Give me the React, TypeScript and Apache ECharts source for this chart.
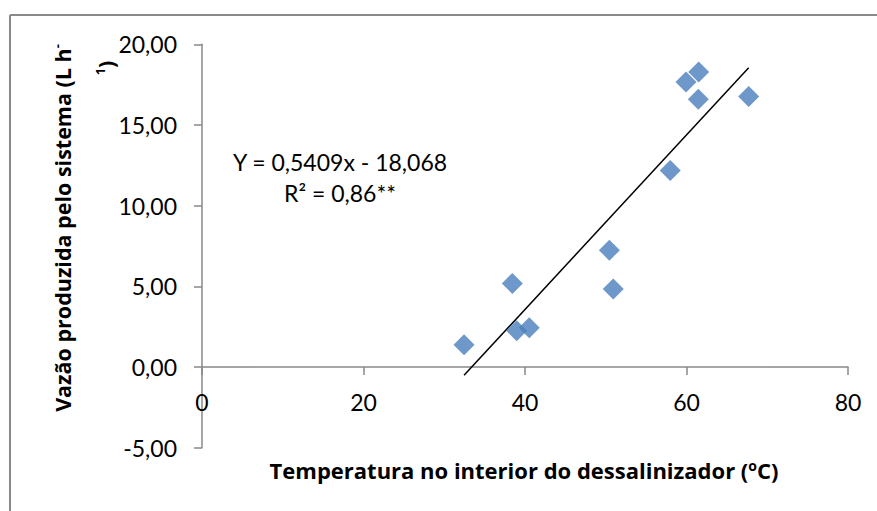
import React, { useEffect, useRef } from "react";
import * as echarts from "echarts";

const temperature = [32.45, 38.43, 38.97, 40.53, 50.45, 50.93, 57.99, 59.94, 61.51, 61.46, 67.7];
const flow = [1.38, 5.18, 2.25, 2.43, 7.24, 4.84, 12.18, 17.67, 18.28, 16.59, 16.76];
const slope = 0.5409;
const intercept = -18.068;
const xTicks = { min: 0, max: 80, interval: 20 };
const yTicks = { min: -5, max: 20, interval: 5 };
const equationText = "Y = 0,5409x - 18,068";
const r2Text = "R² = 0,86**";

const FONT = "Lato, 'Open Sans', sans-serif";
const BOLD = "'Open Sans', Lato, sans-serif";

export default function App() {
  const ref = useRef<HTMLDivElement>(null);
  useEffect(() => {
    if (!ref.current) return;
    const chart = echarts.init(ref.current, undefined, { renderer: "svg" });
    const points = temperature.map((t, i) => [t, flow[i]]);
    const xmin = Math.min(...temperature);
    const xmax = Math.max(...temperature);
    const trend = [
      [xmin, slope * xmin + intercept],
      [xmax, slope * xmax + intercept],
    ];
    const gridTop = 44.3;
    const gridBottom = 63.3;
    const plotH = 511 - gridTop - gridBottom;
    const zeroOffset = (plotH * (0 - yTicks.min)) / (yTicks.max - yTicks.min);
    chart.setOption({
      animation: false,
      backgroundColor: "#ffffff",
      grid: { left: 202, right: 29, top: gridTop, bottom: gridBottom },
      xAxis: {
        type: "value",
        position: "bottom",
        offset: -zeroOffset,
        min: xTicks.min,
        max: xTicks.max,
        interval: xTicks.interval,
        splitLine: { show: false },
        axisLine: { show: true, onZero: false, lineStyle: { color: "#888888", width: 1.5 } },
        axisTick: { show: true, length: 8, lineStyle: { color: "#888888", width: 1.5 } },
        axisLabel: {
          color: "#000000",
          fontSize: 23,
          fontFamily: FONT,
          margin: 23,
          lineHeight: 23,
        },
      },
      yAxis: {
        type: "value",
        min: yTicks.min,
        max: yTicks.max,
        interval: yTicks.interval,
        splitLine: { show: false },
        axisLine: { show: true, onZero: false, lineStyle: { color: "#888888", width: 1.5 } },
        axisTick: { show: true, length: 8, lineStyle: { color: "#888888", width: 1.5 } },
        axisLabel: {
          color: "#000000",
          fontSize: 23,
          fontFamily: FONT,
          margin: 25,
          formatter: (v: number) => v.toFixed(2).replace(".", ","),
        },
      },
      series: [
        {
          type: "line",
          data: trend,
          showSymbol: false,
          symbol: "none",
          lineStyle: { color: "#000000", width: 1.5 },
          z: 3,
        },
        {
          type: "scatter",
          data: points,
          symbol: "diamond",
          symbolSize: 21,
          itemStyle: { color: "#4a7ebb" },
          z: 4,
        },
      ],
      graphic: [
        { type: "line", shape: { x1: 10, y1: 15, x2: 877, y2: 15 }, style: { stroke: "#898989", lineWidth: 2 } },
        { type: "line", shape: { x1: 10, y1: 15, x2: 10, y2: 511 }, style: { stroke: "#898989", lineWidth: 2 } },
        {
          type: "text",
          x: 340,
          y: 162,
          style: {
            text: equationText,
            fontSize: 23,
            fontFamily: FONT,
            fill: "#000000",
            align: "center",
            verticalAlign: "middle",
          },
        },
        {
          type: "text",
          x: 340,
          y: 193,
          style: {
            text: r2Text,
            fontSize: 23,
            fontFamily: FONT,
            fill: "#000000",
            align: "center",
            verticalAlign: "middle",
          },
        },
        {
          type: "text",
          x: 524,
          y: 470,
          style: {
            text: "Temperatura no interior do dessalinizador ({s|o}C)",
            rich: {
              s: { fontSize: 14, fontWeight: "bold", fontFamily: BOLD, padding: [0, 0, 10, 0] },
            },
            fontSize: 22,
            fontWeight: "bold",
            fontFamily: BOLD,
            fill: "#000000",
            align: "center",
            verticalAlign: "middle",
          },
        },
        {
          type: "text",
          x: 62,
          y: 228,
          rotation: Math.PI / 2,
          style: {
            text: "Vazão produzida pelo sistema (L h{s|-}",
            rich: {
              s: { fontSize: 13, fontWeight: "bold", fontFamily: BOLD, padding: [0, 0, 10, 0] },
            },
            fontSize: 21.5,
            fontWeight: "bold",
            fontFamily: BOLD,
            fill: "#000000",
            align: "center",
            verticalAlign: "middle",
          },
        },
        {
          type: "text",
          x: 105,
          y: 68,
          rotation: Math.PI / 2,
          style: {
            text: "{s|1})",
            rich: {
              s: { fontSize: 13, fontWeight: "bold", fontFamily: BOLD, padding: [0, 0, 10, 0] },
            },
            fontSize: 21.5,
            fontWeight: "bold",
            fontFamily: BOLD,
            fill: "#000000",
            align: "center",
            verticalAlign: "middle",
          },
        },
      ],
    });
    return () => chart.dispose();
  }, []);
  return (
    <div
      ref={ref}
      style={{ position: "fixed", left: 0, top: 0, width: 877, height: 511 }}
    />
  );
}
